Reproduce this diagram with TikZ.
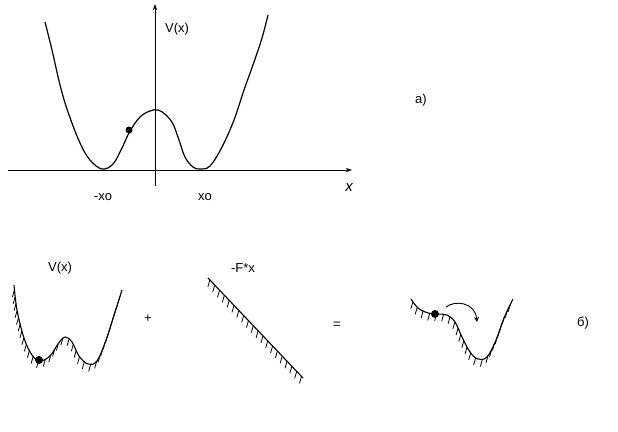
\documentclass[tikz,border=0pt]{standalone}
\usepackage{fontspec}
\setmainfont{Liberation Sans}
\usetikzlibrary{arrows.meta, decorations.markings}

\begin{document}
\begin{tikzpicture}[x=1pt, y=-1pt,
    curve/.style={line width=1.2pt, line join=round},
    hatched/.style={line width=1.1pt, line join=round, postaction={decorate},
      decoration={markings, mark=between positions 0.02 and 0.99 step 7pt with
        {\pgftransformresetnontranslations \draw[line width=0.8pt] (0,0) -- (-2pt,-7pt);}}},
    lbl/.style={font=\fontsize{13}{15}\selectfont, inner sep=0pt},
    ball/.style={circle, fill, inner sep=0pt, minimum size=8pt},
    axis/.style={line width=0.6pt, -{Stealth[length=6pt, width=4pt]}}
  ]
  \useasboundingbox (0,0) rectangle (618,431);

  % a) the double well
  \coordinate (xstart) at (8,170);
  \coordinate (xend) at (352,170);
  \coordinate (ystart) at (155,186);
  \coordinate (yend) at (155,4);
  \draw[axis] (xstart) -- (xend);
  \draw[axis] (ystart) -- (yend);

  \draw[curve] plot[smooth, tension=0.6] coordinates {(45,22) (52,50) (60,85) (68,112)
    (80,143) (90,160) (102,169) (113,164) (122,148) (130,131) (140,117) (150,111)
    (158,110) (166,115) (173,124) (179,140) (185,157) (193,167) (200,169) (210,166)
    (222,147) (234,120) (244,90) (254,62) (262,38) (268,15)};

  \node[ball, minimum size=7pt] (topball) at (129,130) {};

  \node[lbl, anchor=west] (vtop) at (165,29) {V(x)};
  \node[lbl] (mxo) at (103,197) {-xo};
  \node[lbl] (xo) at (205,197) {xo};
  \node[lbl, font=\fontsize{15}{17}\selectfont\itshape] (xaxis) at (349,188) {x};
  \node[lbl] (alab) at (421,100) {a)};

  % б) tilting the well
  \node[lbl] (vbot) at (60,268) {V(x)};
  \draw[hatched] plot[smooth, tension=0.6] coordinates {(14,285) (17,310) (24,338)
    (32,355) (40,361) (50,356) (58,344) (65,337) (72,342) (79,356) (88,364)
    (97,361) (106,340) (115,312) (122,290)};
  \node[ball] (botball) at (39,360) {};

  \node[lbl] (plus) at (148,319) {+};

  \node[lbl] (fx) at (243,268) {-F*x};
  \coordinate (fstart) at (208,278);
  \coordinate (fend) at (303,378);
  \draw[hatched] (fstart) -- (fend);

  \node[lbl] (eq) at (337,325) {=};

  \draw[hatched] plot[smooth, tension=0.6] coordinates {(411,299) (418,308) (428,313)
    (437,314) (447,315) (455,322) (462,337) (470,352) (478,359) (487,357)
    (496,340) (504,318) (513,299)};
  \node[ball] (rball) at (435,314) {};
  \coordinate (jump) at (477,322);
  \draw[line width=0.9pt, -{Stealth[length=5pt, width=5pt]}]
    (rball.north east) ++(8,-4) .. controls (455,300) and (475,302) .. (jump);

  \node[lbl] (blab) at (583,323) {б)};
\end{tikzpicture}
\end{document}
